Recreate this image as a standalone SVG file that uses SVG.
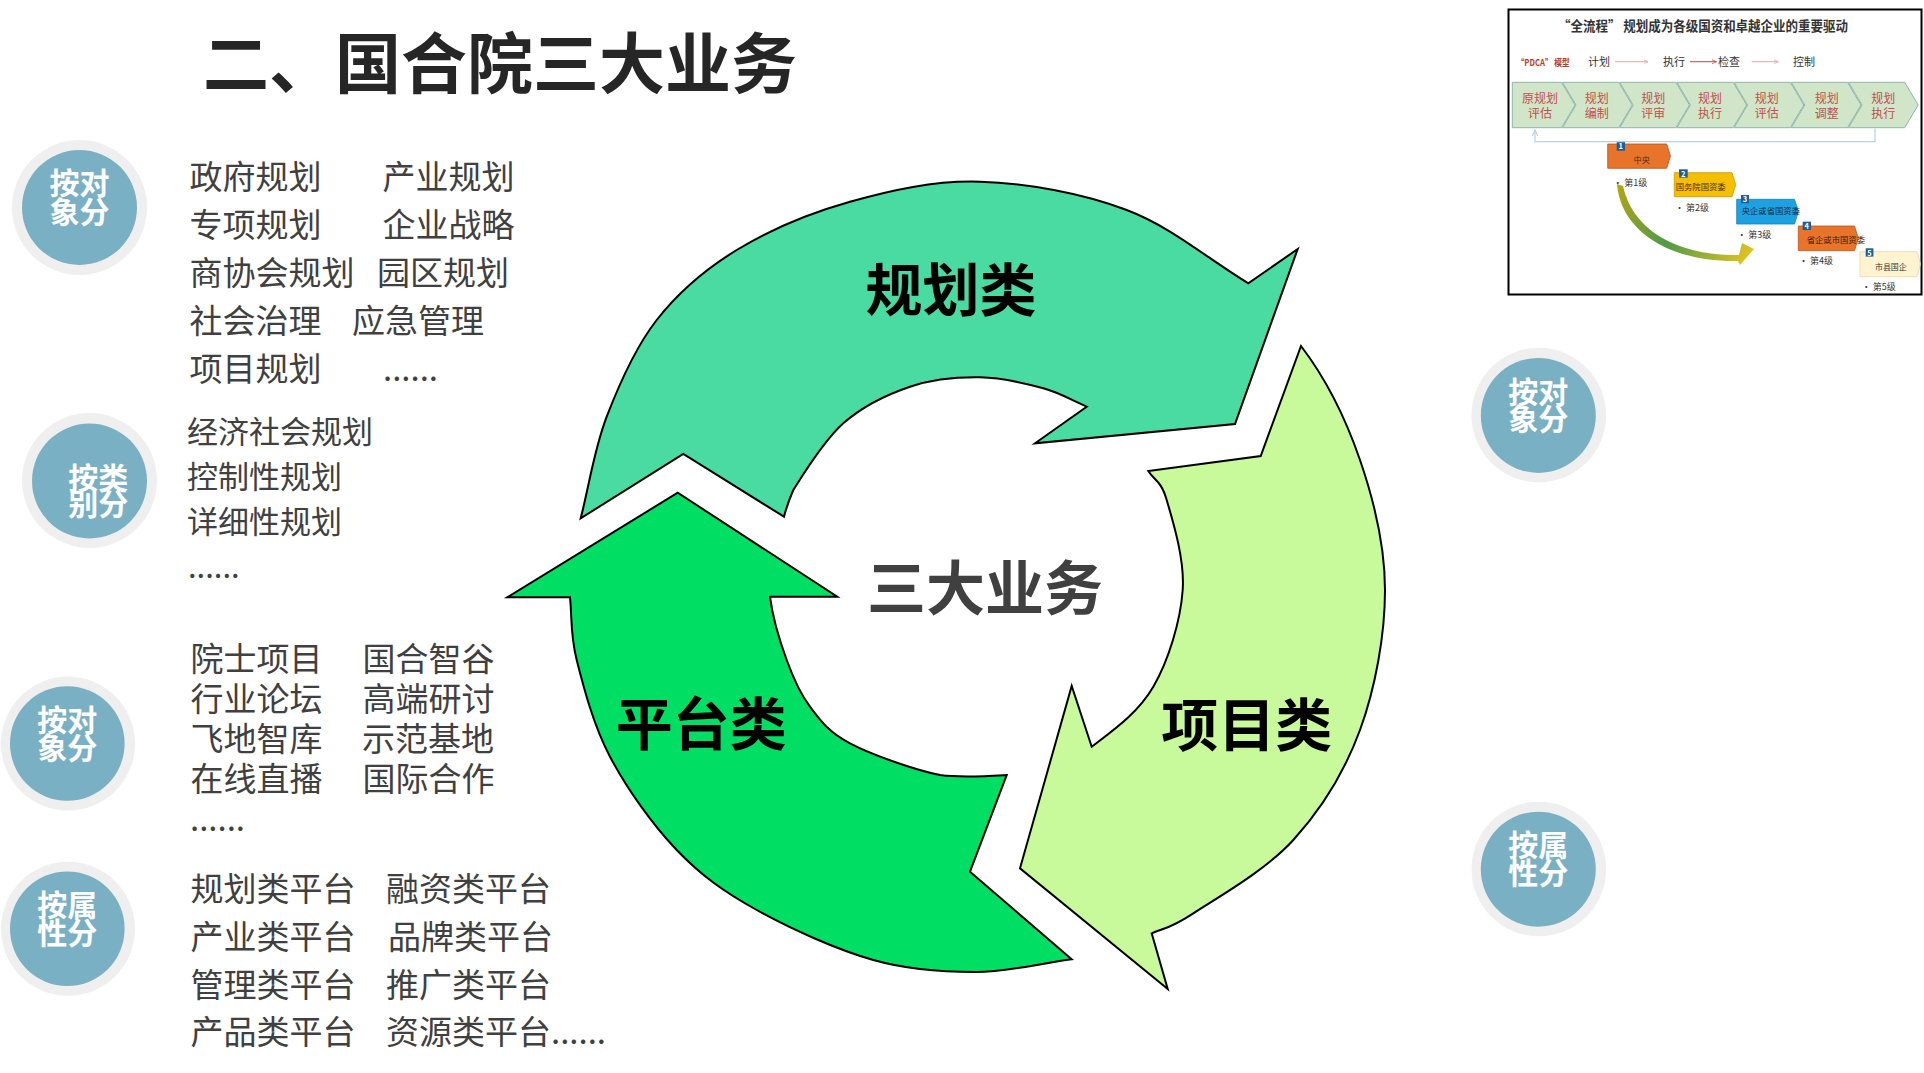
<svg xmlns="http://www.w3.org/2000/svg" width="1924" height="1073" viewBox="0 0 1924 1073">
<defs>
<style>
text { font-family: "Noto Sans CJK SC", "Noto Sans", sans-serif; }
.body { font-size: 33px; fill: #404040; }
.body31 { font-size: 31px; fill: #404040; }
.ring { fill: #efefef; }
.disc { fill: #7ab0c4; }
.ctext { font-size: 30px; font-weight: 700; fill: #ffffff; text-anchor: middle; }
.arrow { stroke: #000; stroke-width: 2; stroke-linejoin: miter; }
.lbl { font-size: 57px; font-weight: 700; fill: #000; text-anchor: middle; }
.chev { fill: #d1e5c9; stroke: #8fb5ab; stroke-width: 1; }
.chevt { font-size: 12px; fill: #c0504d; text-anchor: middle; }
.badge { fill: #1f5c99; }
.badget { font-size: 7.5px; font-weight: 700; fill: #fff; text-anchor: middle; }
.stept { font-size: 8.3px; }
.lvl { font-size: 9px; fill: #333; }
.pd { font-size: 11px; fill: #333; }
</style>
<marker id="mSmall" viewBox="0 0 10 10" refX="9" refY="5" markerWidth="5" markerHeight="5" orient="auto">
<path d="M0,1 L9,5 L0,9" fill="none" stroke="context-stroke" stroke-width="1.5"/>
</marker>
<marker id="mUp" viewBox="0 0 10 10" refX="9" refY="5" markerWidth="6" markerHeight="6" orient="auto">
<path d="M0,1 L9,5 L0,9" fill="none" stroke="#b8cfe0" stroke-width="1.5"/>
</marker>
<linearGradient id="gArc" x1="1618" y1="185" x2="1754" y2="255" gradientUnits="userSpaceOnUse">
<stop offset="0" stop-color="#b3a514"/>
<stop offset="0.45" stop-color="#4f9a4a"/>
<stop offset="1" stop-color="#e6c51e"/>
</linearGradient>
</defs>

<rect width="1924" height="1073" fill="#ffffff"/>

<g id="title">
<text x="500" y="88" text-anchor="middle" font-size="66" font-weight="700" fill="#262626">二、国合院三大业务</text>
</g>

<!-- classification circles -->
<g id="circle-1">
<circle class="ring" cx="79.5" cy="207.5" r="67.5"/>
<circle class="disc" cx="79.5" cy="207.5" r="57.5"/>
<text class="ctext" x="79.5" y="194.4">按对<tspan x="79.5" dy="28.7">象分</tspan></text>
</g>
<g id="circle-2">
<circle class="ring" cx="89.5" cy="480.5" r="67.5"/>
<circle class="disc" cx="89.5" cy="481" r="57.5"/>
<text class="ctext" x="98.2" y="489" font-size="28">按类<tspan x="98.2" dy="26">别分</tspan></text>
</g>
<g id="circle-3">
<circle class="ring" cx="68" cy="743.6" r="67"/>
<circle class="disc" cx="67.3" cy="743.5" r="57.3"/>
<text class="ctext" x="67.2" y="731.1">按对<tspan x="67.2" dy="27.8">象分</tspan></text>
</g>
<g id="circle-4">
<circle class="ring" cx="68" cy="928.8" r="67"/>
<circle class="disc" cx="67.3" cy="928.8" r="57.3"/>
<text class="ctext" x="67.2" y="916.4">按属<tspan x="67.2" dy="27.5">性分</tspan></text>
</g>
<g id="circle-5">
<circle class="ring" cx="1538.8" cy="415.1" r="67.3"/>
<circle class="disc" cx="1538.3" cy="415.4" r="57.5"/>
<text class="ctext" x="1538.3" y="402.7" font-size="29">按对<tspan x="1538.3" dy="27.7">象分</tspan></text>
</g>
<g id="circle-6">
<circle class="ring" cx="1538.8" cy="869" r="67.3"/>
<circle class="disc" cx="1538.3" cy="869.2" r="57.5"/>
<text class="ctext" x="1538.3" y="856.2" font-size="29">按属<tspan x="1538.3" dy="27.3">性分</tspan></text>
</g>

<!-- text lists -->
<g id="list-1">
<text class="body" x="189.5" y="189">政府规划<tspan x="189.5" dy="48">专项规划</tspan><tspan x="189.5" dy="48">商协会规划</tspan><tspan x="189.5" dy="48">社会治理</tspan><tspan x="189.5" dy="48">项目规划</tspan></text>
<text class="body" x="382.5" y="189">产业规划<tspan x="382.5" dy="48">企业战略</tspan><tspan x="377" dy="48">园区规划</tspan><tspan x="352" dy="48">应急管理</tspan><tspan x="383" dy="48">......</tspan></text>
</g>
<g id="list-2">
<text class="body31" x="187" y="442.6">经济社会规划<tspan x="187" dy="45">控制性规划</tspan><tspan x="187" dy="45">详细性规划</tspan><tspan x="188" dy="45.4">......</tspan></text>
</g>
<g id="list-3">
<text class="body" x="190.5" y="671">院士项目<tspan x="190.5" dy="40">行业论坛</tspan><tspan x="190.5" dy="40">飞地智库</tspan><tspan x="190.5" dy="40">在线直播</tspan><tspan x="190" dy="40">......</tspan></text>
<text class="body" x="362.5" y="671">国合智谷<tspan x="362.5" dy="40">高端研讨</tspan><tspan x="362" dy="40">示范基地</tspan><tspan x="362.5" dy="40">国际合作</tspan></text>
</g>
<g id="list-4">
<text class="body" x="190.5" y="901">规划类平台<tspan x="190.5" dy="48">产业类平台</tspan><tspan x="190.5" dy="48">管理类平台</tspan><tspan x="190.5" dy="47">产品类平台</tspan></text>
<text class="body" x="386" y="901">融资类平台<tspan x="388" dy="48">品牌类平台</tspan><tspan x="386" dy="48">推广类平台</tspan><tspan x="386" dy="47">资源类平台......</tspan></text>
</g>

<!-- cycle arrows -->
<g id="node-planning">
<path class="arrow" fill="#49dba2" d="M580.7,518.3 C589.4,484.4 594.0,449.8 606.7,416.7 C619.4,383.6 635.0,347.8 656.7,320 C678.4,292.2 704.5,269.7 736.7,250 C768.9,230.3 809.5,213.1 850,201.7 C890.6,190.3 933.9,180.3 980,181.7 C1026.1,183.1 1082.0,193.1 1126.7,210 C1171.4,226.9 1207.8,258.9 1248.3,283.3 L1297.7,249 L1235,424 L1035,443.3 L1086.7,406.7 C1072.2,400.6 1061.1,393.2 1043.3,388.3 C1025.5,383.4 1002.2,377.6 980,377.3 C957.8,377.0 932.8,379.0 910,386.7 C887.2,394.4 862.8,406.1 843.3,423.3 C823.9,440.5 803.2,474.4 793.3,490 C789,500 786,509 784,516.7 L683.3,454 Z"/>
<text class="lbl" x="951" y="311.4">规划类</text>
</g>
<g id="node-project">
<path class="arrow" fill="#c8f99a" d="M1301,346 C1327,380 1346,419.3 1360,460 C1374,500.7 1385,545 1385,590 C1385,635 1375.3,688.3 1360,730 C1344.7,771.7 1321.1,809.5 1293.3,840 C1265.5,870.6 1216.9,897.8 1193.3,913.3 C1169.7,928.9 1165,927.5 1151.7,933.3 L1167.7,989 L1020,868.3 L1071.7,686 L1091.7,746.7 C1114.5,729.3 1138.1,712.8 1153.3,686.7 C1168.5,660.6 1180.5,621.1 1182.7,590 C1184.9,558.9 1172.4,519.8 1166.7,500 C1161,480.2 1154.4,480.7 1148.3,471 L1260.7,456 Z"/>
<text class="lbl" x="1246.7" y="746.2">项目类</text>
</g>
<g id="node-platform">
<path class="arrow" fill="#00de64" d="M1071.7,959.3 C1039.8,963.5 1009.1,971.9 976,972 C942.9,972.1 909.9,970.3 873.3,960 C836.8,949.7 789.5,928.3 756.7,910 C723.9,891.7 701.2,875.6 676.7,850 C652.3,824.5 626.7,788.4 610,756.7 C593.3,725 583.4,686.6 576.7,660 C570,633.4 572.2,618.2 570,597.3 L507.3,597.3 L677.7,492.7 L837.3,596.7 L770,596.7 C772.5,617 780,641.7 786.7,660 C793.4,678.3 799.45,692.8 810,706.7 C820.55,720.6 828.3,731.9 850,743.3 C871.7,754.7 913.9,769.7 940,775 C962,778 990,776 1006.7,775 L970,871.7 Z"/>
<text class="lbl" x="701.3" y="745">平台类</text>
</g>
<g id="node-center">
<text x="985" y="610" text-anchor="middle" font-size="59" font-weight="700" fill="#404040">三大业务</text>
</g>

<!-- PDCA inset -->
<g id="pdca-inset">
<rect x="1508.5" y="9.5" width="413" height="285" fill="#ffffff" stroke="#000" stroke-width="2"/>
<text x="1703" y="31" font-size="13.5" font-weight="700" fill="#333" text-anchor="middle" textLength="290" lengthAdjust="spacingAndGlyphs">“全流程” 规划成为各级国资和卓越企业的重要驱动</text>
<text x="1516.7" y="65.5" font-size="9.5" font-weight="700" fill="#c0392b" textLength="53" lengthAdjust="spacingAndGlyphs">“PDCA” 模型</text>
<text class="pd" x="1588" y="65.7">计划</text>
<text class="pd" x="1663" y="65.7">执行</text>
<text class="pd" x="1718" y="65.7">检查</text>
<text class="pd" x="1793" y="65.7">控制</text>

<g id="pdca-chevrons">
<polygon class="chev" points="1512.3,82.3 1561.5,82.3 1575,105 1561.5,127.7 1512.3,127.7"/>
<polygon class="chev" points="1562.5,82.3 1618.7,82.3 1632.2,105 1618.7,127.7 1562.5,127.7 1576,105"/>
<polygon class="chev" points="1619.7,82.3 1675.9,82.3 1689.4,105 1675.9,127.7 1619.7,127.7 1633.2,105"/>
<polygon class="chev" points="1676.9,82.3 1733.1,82.3 1746.6,105 1733.1,127.7 1676.9,127.7 1690.4,105"/>
<polygon class="chev" points="1734.1,82.3 1790.3,82.3 1803.8,105 1790.3,127.7 1734.1,127.7 1747.6,105"/>
<polygon class="chev" points="1791.3,82.3 1847.5,82.3 1861,105 1847.5,127.7 1791.3,127.7 1804.8,105"/>
<polygon class="chev" points="1848.5,82.3 1904.7,82.3 1918.2,105 1904.7,127.7 1848.5,127.7 1862,105"/>
<text class="chevt" x="1540" y="103">原规划<tspan x="1540" dy="15">评估</tspan></text>
<text class="chevt" x="1596.7" y="103">规划<tspan x="1596.7" dy="15">编制</tspan></text>
<text class="chevt" x="1653.3" y="103">规划<tspan x="1653.3" dy="15">评审</tspan></text>
<text class="chevt" x="1710" y="103">规划<tspan x="1710" dy="15">执行</tspan></text>
<text class="chevt" x="1766.7" y="103">规划<tspan x="1766.7" dy="15">评估</tspan></text>
<text class="chevt" x="1826.7" y="103">规划<tspan x="1826.7" dy="15">调整</tspan></text>
<text class="chevt" x="1883.3" y="103">规划<tspan x="1883.3" dy="15">执行</tspan></text>
</g>

<g id="pdca-levels">
<polygon fill="#e8742a" stroke="#b9561c" stroke-width="0.8" points="1607.7,144 1666.7,144 1670.5,156 1666.7,168.3 1607.7,168.3"/>
<polygon fill="#f5be00" stroke="#c99a00" stroke-width="0.8" points="1674.3,172.7 1732,172.7 1735.7,184.7 1732,196.7 1674.3,196.7"/>
<polygon fill="#1ea1e2" stroke="#1580b8" stroke-width="0.8" points="1736.7,199.3 1794.5,199.3 1798.3,211.7 1794.5,224 1736.7,224"/>
<polygon fill="#e8742a" stroke="#b9561c" stroke-width="0.8" points="1798.3,226 1854.5,226 1858.3,238.3 1854.5,250.7 1798.3,250.7"/>
<polygon fill="#fff3d0" stroke="#e3d6ae" stroke-width="0.8" points="1860,251.7 1917,251.7 1920.5,264 1917,276.7 1860,276.7"/>
<rect class="badge" x="1616.7" y="141.7" width="8.3" height="9"/><text class="badget" x="1620.8" y="149.2">1</text>
<rect class="badge" x="1679" y="169.3" width="8.7" height="8.3"/><text class="badget" x="1683.3" y="176.6">2</text>
<rect class="badge" x="1741" y="195" width="8" height="8.3"/><text class="badget" x="1745" y="202.3">3</text>
<rect class="badge" x="1802.7" y="221.7" width="8.3" height="8.3"/><text class="badget" x="1806.8" y="229">4</text>
<rect class="badge" x="1865.7" y="248.3" width="7.7" height="8.3"/><text class="badget" x="1869.5" y="255.6">5</text>
<text class="stept" x="1641.7" y="163" text-anchor="middle" fill="#5b2a12">中央</text>
<text class="stept" x="1675.7" y="190.3" fill="#4a3000" textLength="50" lengthAdjust="spacingAndGlyphs">国务院国资委</text>
<text class="stept" x="1741.7" y="213.7" fill="#1a2a40" textLength="58.3" lengthAdjust="spacingAndGlyphs">央企或省国资委</text>
<text class="stept" x="1806.7" y="243" fill="#3a1a08" textLength="58.3" lengthAdjust="spacingAndGlyphs">省企或市国资委</text>
<text class="stept" x="1875" y="269.7" fill="#333" textLength="31.7" lengthAdjust="spacingAndGlyphs">市县国企</text>
<text class="lvl" x="1613.3" y="185.5">• 第1级</text>
<text class="lvl" x="1675" y="211.3">• 第2级</text>
<text class="lvl" x="1737.3" y="238">• 第3级</text>
<text class="lvl" x="1799" y="264">• 第4级</text>
<text class="lvl" x="1861.7" y="289.7">• 第5级</text>
</g>
</g>

<g id="connectors">
<line x1="1615" y1="61.7" x2="1648" y2="61.7" stroke="#e0a8a8" stroke-width="1" marker-end="url(#mSmall)"/>
<line x1="1690" y1="61.7" x2="1716.5" y2="61.7" stroke="#b05050" stroke-width="1" marker-end="url(#mSmall)"/>
<line x1="1751.7" y1="61.7" x2="1778.3" y2="61.7" stroke="#e0a8a8" stroke-width="1" marker-end="url(#mSmall)"/>
<polyline points="1875,128.5 1875,141.7 1535,141.7 1535,130" fill="none" stroke="#b8cfe0" stroke-width="1.2" marker-end="url(#mUp)"/>
<path fill="url(#gArc)" d="M1617,184 C1620,226 1662,262 1738,261 L1740,265 L1754,249 L1742,243 L1739,255 C1674,256 1632,228 1623,186 Z"/>
</g>
</svg>
